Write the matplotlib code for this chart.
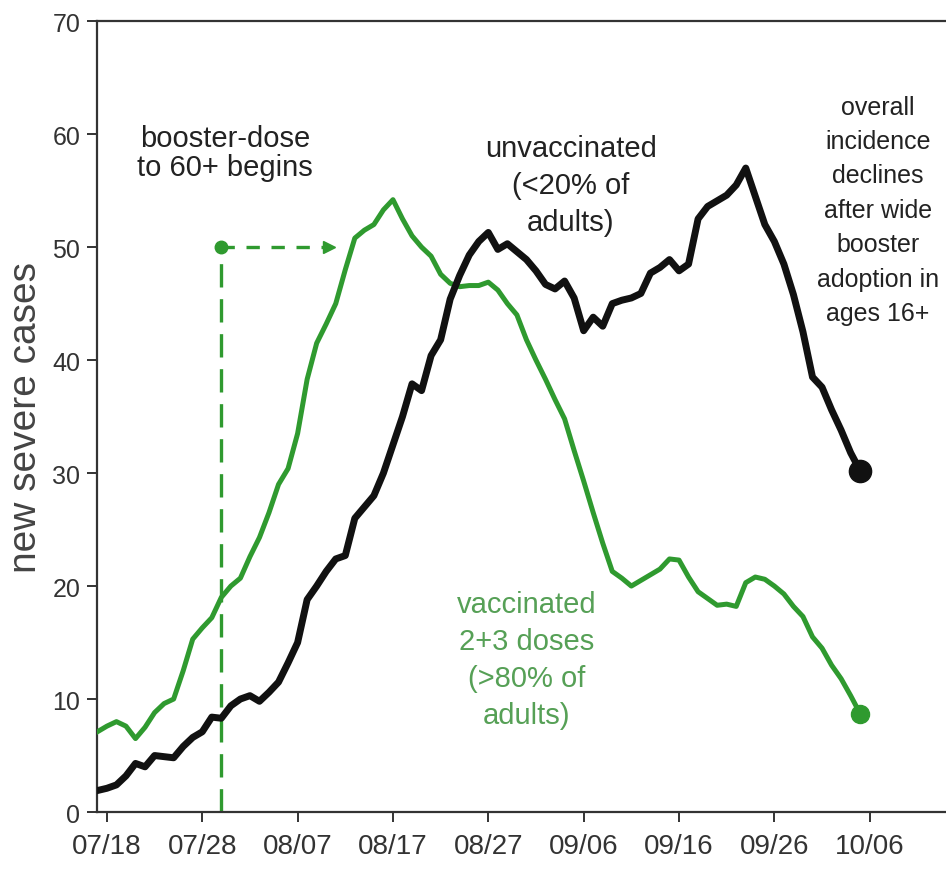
import matplotlib
matplotlib.use("Agg")
import matplotlib.pyplot as plt
import matplotlib.dates as mdates
import pandas as pd

# daily values, 17 Jul 2021 .. 5 Oct 2021
start_day = "2021-07-17"
unvaccinated = [
    1.9, 2.1, 2.4, 3.2, 4.3, 4.0, 5.0, 4.9, 4.8, 5.8,
    6.6, 7.1, 8.4, 8.3, 9.4, 10.0, 10.3, 9.8, 10.6, 11.5,
    13.2, 15.0, 18.8, 20.0, 21.3, 22.4, 22.7, 26.0, 27.0, 28.0,
    30.0, 32.5, 35.0, 37.9, 37.3, 40.4, 41.8, 45.4, 47.5, 49.3,
    50.5, 51.3, 49.8, 50.3, 49.6, 48.9, 47.9, 46.7, 46.3, 47.0,
    45.5, 42.6, 43.8, 43.0, 45.0, 45.3, 45.5, 45.9, 47.7, 48.2,
    48.9, 47.9, 48.5, 52.5, 53.6, 54.1, 54.6, 55.5, 57.0, 54.5,
    52.0, 50.5, 48.5, 45.8, 42.5, 38.5, 37.6, 35.6, 33.8, 31.8,
    30.2,
]
vaccinated = [
    7.1, 7.6, 8.0, 7.6, 6.5, 7.5, 8.8, 9.6, 10.0, 12.5,
    15.3, 16.3, 17.2, 19.0, 20.0, 20.7, 22.6, 24.3, 26.5, 29.0,
    30.4, 33.5, 38.3, 41.5, 43.2, 45.0, 48.0, 50.8, 51.5, 52.0,
    53.3, 54.2, 52.5, 51.0, 50.0, 49.2, 47.6, 46.8, 46.5, 46.6,
    46.6, 46.9, 46.2, 45.0, 44.0, 41.8, 40.0, 38.3, 36.5, 34.8,
    32.0, 29.3, 26.5, 23.8, 21.3, 20.7, 20.0, 20.5, 21.0, 21.5,
    22.4, 22.3, 20.8, 19.5, 18.9, 18.3, 18.4, 18.2, 20.3, 20.8,
    20.6, 20.0, 19.3, 18.2, 17.3, 15.5, 14.5, 13.0, 11.8, 10.3,
    8.7,
]
tick_labels = ["07/18", "07/28", "08/07", "08/17", "08/27",
               "09/06", "09/16", "09/26", "10/06"]
booster_start = "2021-07-30"
booster_level = 50
arrow_end = "2021-08-10 08:00"

days = pd.date_range(start_day, periods=len(unvaccinated), freq="D")
ticks = [pd.Timestamp("2021/" + t) for t in tick_labels]

black = "#111111"
green = "#2f9a2f"
green_txt = "#56a056"
grey = "#333333"
plt.rcParams["font.family"] = ["Liberation Sans", "DejaVu Sans"]

fig = plt.figure(figsize=(9.46, 8.7), dpi=100)
ax = fig.add_axes([0.1025, 0.0655, 0.8975, 0.909])

ax.plot(days, vaccinated, color=green, lw=3.6, solid_joinstyle="round", zorder=3)
ax.plot(days, unvaccinated, color=black, lw=5.0, solid_joinstyle="round", zorder=4)
ax.plot(days[-1], vaccinated[-1], "o", color=green, ms=13, zorder=5)
ax.plot(days[-1], unvaccinated[-1], "o", color=black, ms=16, zorder=5)

# booster marker: dashed drop line and dashed arrow
b0 = pd.Timestamp(booster_start)
b1 = pd.Timestamp(arrow_end)
ax.plot([b0, b0], [0, booster_level], color=green, lw=2.4, dashes=(7, 3.5), zorder=2)
ax.plot([b0, b1], [booster_level, booster_level], color=green, lw=2.4,
        dashes=(4, 3.5), zorder=2)
ax.plot(b0, booster_level, "o", color=green, ms=9, zorder=3)
ax.plot(b1, booster_level, ">", color=green, ms=9, zorder=3)

ax.set_xlim(pd.Timestamp("2021-07-16 23:00"), pd.Timestamp("2021-10-14"))
ax.set_ylim(0, 70)
ax.set_xticks(ticks)
ax.xaxis.set_major_formatter(mdates.DateFormatter("%m/%d"))
ax.set_yticks(range(0, 71, 10))

for s in ["left", "bottom", "top"]:
    ax.spines[s].set_linewidth(1.6)
    ax.spines[s].set_color(grey)
ax.spines["right"].set_visible(False)
ax.tick_params(axis="both", direction="out", length=7, width=1.4, color=grey,
               labelcolor=grey)
ax.tick_params(axis="x", labelsize=20, pad=8)
ax.tick_params(axis="y", labelsize=18, pad=5)

ax.set_ylabel("new severe cases", fontsize=28, color="#444444")
ax.yaxis.set_label_coords(-0.062, 0.5)

ax.text(pd.Timestamp("2021-07-30 10:00"), 58.4, "booster-dose\nto 60+ begins",
        fontsize=21, color="#222222", ha="center", va="center",
        linespacing=1.05)
ax.text(pd.Timestamp("2021-09-04 16:00"), 55.5, "unvaccinated\n(<20% of\nadults)",
        fontsize=21, color="#222222", ha="center", va="center",
        linespacing=1.4)
ax.text(pd.Timestamp("2021-10-06 20:00"), 53.3,
        "overall\nincidence\ndeclines\nafter wide\nbooster\nadoption in\nages 16+",
        fontsize=18, color="#222222", ha="center", va="center",
        linespacing=1.55)
ax.text(pd.Timestamp("2021-08-31 00:00"), 13.5,
        "vaccinated\n2+3 doses\n(>80% of\nadults)",
        fontsize=21, color=green_txt, ha="center", va="center",
        linespacing=1.4)

fig.savefig("out.png", dpi=100)
